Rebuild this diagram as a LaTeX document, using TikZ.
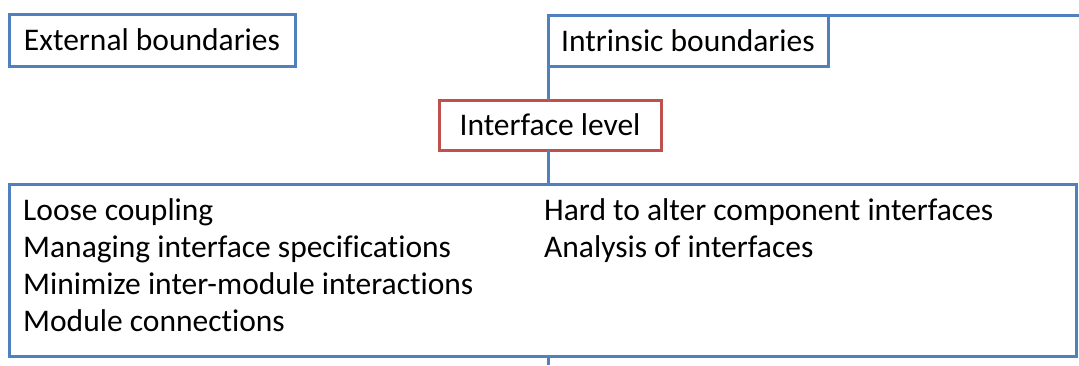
\documentclass[tikz,border=0pt]{standalone}
\usepackage{fontspec}
\setmainfont[Ligatures=NoCommon]{Carlito}
\definecolor{boxblue}{HTML}{4F81BD}
\definecolor{boxred}{HTML}{C0504D}
\begin{document}
\begin{tikzpicture}[x=1pt,y=-1pt,
  txt/.style={font=\fontsize{31.5}{37}\selectfont},
  framebox/.style={draw=boxblue,line width=3pt,inner sep=0pt,outer sep=0pt,txt},
  levelbox/.style={draw=boxred,line width=3pt,inner sep=0pt,outer sep=0pt,txt},
  link/.style={draw=boxblue,line width=3pt},
  item/.style={txt,align=left,inner sep=0pt,anchor=base west}]
\useasboundingbox (0,0) rectangle (1079,365);

% top-level boxes
\node[framebox,minimum width=286pt,minimum height=52pt] (ext) at (152,40) {External boundaries};
\node[framebox,minimum width=280pt,minimum height=51pt] (intr) at (688,40.5) {Intrinsic boundaries};
\node[levelbox,minimum width=222pt,minimum height=50pt] (iface) at (550,125) {Interface level};
\node[framebox,minimum width=1067pt,minimum height=172pt] (big) at (542.5,270) {};

% trunk line and top rail
\coordinate (railend) at (1079,15);
\coordinate (trunkend) at (548,365);
\draw[link] (intr.north west) -- (railend);
\draw[link] (intr.north west) -- (intr.north west |- iface.north);
\draw[link] (intr.north west |- iface.south) -- (intr.north west |- big.north);
\draw[link] (intr.north west |- big.south) -- (trunkend);

% contents of the lower box (anchored at the baseline of the last line)
\node[item] (left) at (23,331) {Loose coupling\\Managing interface specifications\\Minimize inter-module interactions\\Module connections};
\node[item] (right) at (544,257) {Hard to alter component interfaces\\Analysis of interfaces};
\end{tikzpicture}
\end{document}
